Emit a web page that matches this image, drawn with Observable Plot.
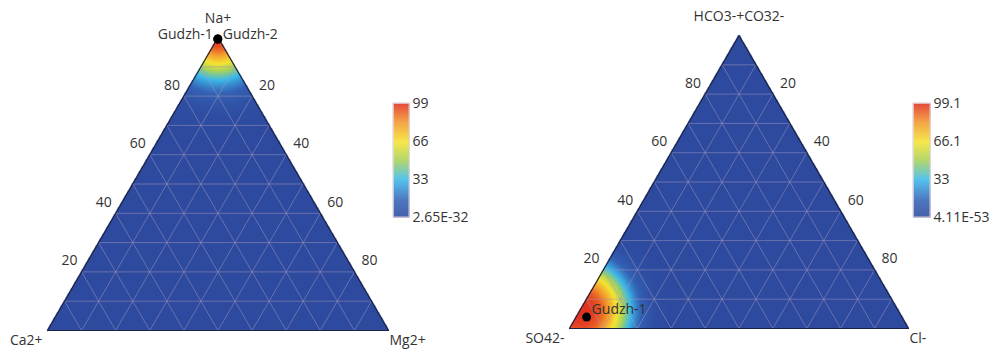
<!DOCTYPE html>
<html><head><meta charset="utf-8">
<script src="https://cdn.jsdelivr.net/npm/d3@7"></script>
<script src="https://cdn.jsdelivr.net/npm/@observablehq/plot@0.6"></script>
<style>
html,body{margin:0;padding:0;background:#fff;}
#wrap{position:relative;width:992px;height:349px;overflow:hidden;}
#wrap > div{position:absolute;top:0;}
</style></head><body><div id="wrap"></div>
<script>
// ---------------- data ----------------
// corner names: [bottom-left, bottom-right, top]
const cationCorners = ["Ca2+", "Mg2+", "Na+"];
const anionCorners = ["SO42-", "Cl-", "HCO3-+CO32-"];
// samples (percent)
const cationNames = ["Gudzh-1", "Gudzh-2"];
const cationCa = [0.3, 0.3];
const cationMg = [0.2, 0.2];
const cationNa = [99.5, 99.5];
const anionNames = ["Gudzh-1"];
const anionSO4 = [93.0];
const anionCl = [3.1];
const anionHCO3 = [3.9];
// density peaks (percent of bottom-left, bottom-right, top component)
const cationPeak = [0, 0, 100];
const anionPeak = [93.9, 0, 6.1];
// colour-bar values and labels
const cationBarValues = [99, 66, 33, 2.65e-32];
const cationBarLabels = ["99", "66", "33", "2.65E-32"];
const anionBarValues = [99.1, 66.1, 33, 4.11e-53];
const anionBarLabels = ["99.1", "66.1", "33", "4.11E-53"];
// axis ticks and grid
const edgeTicks = [20, 40, 60, 80];
const gridSteps = [10, 20, 30, 40, 50, 60, 70, 80, 90];

// ---------------- styling ----------------
const FONT = "'Open Sans', sans-serif";
const TEXT = "#333";
const rampStops = [0, 0.15, 0.33, 0.5, 0.66, 0.83, 1];
const rampColors = ["#2d4a9f", "#3463b6", "#3cb9ea", "#a8d25a", "#f4e432", "#f39b2e", "#e2321f"];
const H = Math.sqrt(3) / 2;
const P = (a, b, c) => { const s = a + b + c; return [(b + c / 2) / s, c * H / s]; };

function colorScale(vmin, vmax) {
  return {type: "linear", domain: rampStops.map(t => vmin + t * (vmax - vmin)), range: rampColors, interpolate: "rgb", clamp: true};
}

function ternary({corners, names, A, B, C, peak, vmin, vmax, s, p, xr, yr, labelDy}) {
  const [cx, cy] = P(...peak);
  const field = (x, y) => vmax * Math.exp(-Math.pow(Math.hypot(x - cx, y - cy) / s, p));
  const inside = (x, y) => y >= -0.002 && y <= Math.sqrt(3) * x + 0.004 && y <= Math.sqrt(3) * (1 - x) + 0.004;
  const idx = names.map((d, i) => i);
  const pt = i => P(A[i], B[i], C[i]);
  const tri = [[100, 0, 0], [0, 100, 0], [0, 0, 100], [100, 0, 0]];
  const grid = [
    {p1: d => P(100 - d, 0, d), p2: d => P(0, 100 - d, d)},
    {p1: d => P(100 - d, d, 0), p2: d => P(0, d, 100 - d)},
    {p1: d => P(d, 100 - d, 0), p2: d => P(d, 0, 100 - d)}
  ];
  return Plot.plot({
    width: 496, height: 349,
    x: {domain: [0, 1], range: xr, axis: null},
    y: {domain: [0, H], range: yr, axis: null},
    color: colorScale(vmin, vmax),
    style: {fontFamily: FONT, fontSize: "14px", color: TEXT, background: "transparent", overflow: "visible"},
    marks: [
      Plot.raster({x1: 0, x2: 1, y1: 0, y2: H, fill: (x, y) => field(x, y), fillOpacity: (x, y) => inside(x, y) ? 1 : 0, pixelSize: 1}),
      ...grid.map(g => Plot.link(gridSteps, {
        x1: d => g.p1(d)[0], y1: d => g.p1(d)[1], x2: d => g.p2(d)[0], y2: d => g.p2(d)[1],
        stroke: "#a497be", strokeOpacity: 0.5, strokeWidth: 1
      })),
      Plot.line(tri, {x: d => P(...d)[0], y: d => P(...d)[1], stroke: "#1b2142", strokeWidth: 1.2}),
      // edge ticks
      Plot.text(edgeTicks, {x: d => P(100 - d, 0, d)[0], y: d => P(100 - d, 0, d)[1], text: d => String(d), dx: -12, dy: -11, fill: TEXT}),
      Plot.text(edgeTicks, {x: d => P(0, d, 100 - d)[0], y: d => P(0, d, 100 - d)[1], text: d => String(d), dx: 15, dy: -11, fill: TEXT}),
      // corner labels
      Plot.text([0], {x: () => 0, y: () => 0, text: () => corners[0], textAnchor: "end", dx: -5, dy: 10, fill: TEXT}),
      Plot.text([1], {x: () => 1, y: () => 0, text: () => corners[1], textAnchor: "start", dx: 1, dy: 10, fill: TEXT}),
      Plot.text([2], {x: () => 0.5, y: () => H, text: () => corners[2], dy: -19, fill: TEXT}),
      // samples
      Plot.dot(idx, {x: i => pt(i)[0], y: i => pt(i)[1], r: 4.5, fill: "black"}),
      Plot.text(idx.filter(i => names.length > 1 && i % 2 === 0), {x: i => pt(i)[0], y: i => pt(i)[1], text: i => names[i], textAnchor: "end", dx: -5, dy: labelDy, fill: TEXT}),
      Plot.text(idx.filter(i => names.length === 1 || i % 2 === 1), {x: i => pt(i)[0], y: i => pt(i)[1], text: i => names[i], textAnchor: "start", dx: 5, dy: labelDy, fill: TEXT})
    ]
  });
}

function colorbar({values, labels, vmin, vmax, w}) {
  const idx = values.map((d, i) => i);
  return Plot.plot({
    width: 79, height: 349,
    x: {domain: [0, 1], range: [0, w], axis: null},
    y: {domain: [vmin, vmax], range: [217, 103], axis: null},
    color: colorScale(vmin, vmax),
    style: {fontFamily: FONT, fontSize: "14px", color: TEXT, background: "transparent", overflow: "visible"},
    marks: [
      Plot.raster({x1: 0, x2: 1, y1: vmin, y2: vmax, fill: (x, y) => y, fillOpacity: 0.88, pixelSize: 1}),
      Plot.rect([0], {x1: () => 0, x2: () => 1, y1: () => vmin, y2: () => vmax, fill: "none", stroke: "#d7c9d3", strokeWidth: 1}),
      Plot.text(idx, {x: () => 1, y: i => values[i], text: i => labels[i], textAnchor: "start", dx: 3, fill: TEXT})
    ]
  });
}

const wrap = document.getElementById("wrap");
function place(node, left, width) {
  const d = document.createElement("div");
  d.style.left = left + "px"; d.style.width = width + "px";
  d.appendChild(node); wrap.appendChild(d);
}
place(ternary({corners: cationCorners, names: cationNames, A: cationCa, B: cationMg, C: cationNa,
  peak: cationPeak, vmin: cationBarValues[3], vmax: cationBarValues[0], s: 0.12, p: 2,
  xr: [47, 388], yr: [330, 37], labelDy: -4}), 0, 496);
place(ternary({corners: anionCorners, names: anionNames, A: anionSO4, B: anionCl, C: anionHCO3,
  peak: anionPeak, vmin: anionBarValues[3], vmax: anionBarValues[0], s: 0.145, p: 3,
  xr: [73, 412], yr: [328, 35], labelDy: -8}), 496, 496);
place(colorbar({values: cationBarValues, labels: cationBarLabels, vmin: cationBarValues[3], vmax: cationBarValues[0], w: 16}), 393, 79);
place(colorbar({values: anionBarValues, labels: anionBarLabels, vmin: anionBarValues[3], vmax: anionBarValues[0], w: 17}), 913, 79);
</script></body></html>
